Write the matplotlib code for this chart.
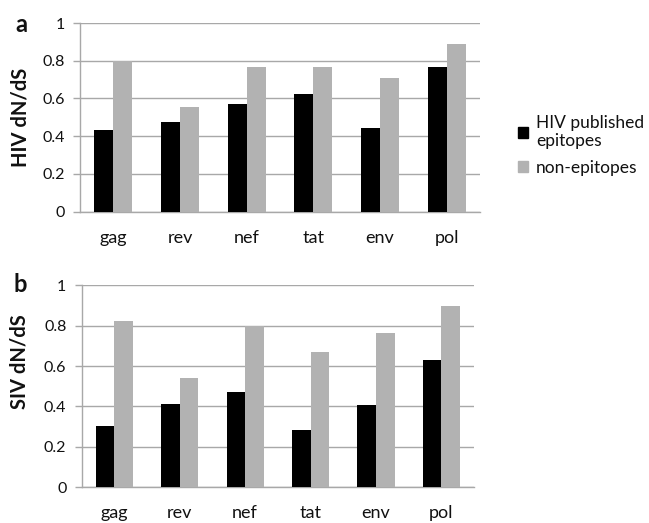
import matplotlib
matplotlib.use("Agg")
import matplotlib.pyplot as plt
from matplotlib.patches import Patch
import numpy as np

genes = ["gag", "rev", "nef", "tat", "env", "pol"]
hiv_epitopes = [0.433, 0.477, 0.569, 0.622, 0.442, 0.765]
hiv_non_epitopes = [0.799, 0.553, 0.768, 0.768, 0.708, 0.887]
siv_epitopes = [0.305, 0.414, 0.470, 0.285, 0.406, 0.630]
siv_non_epitopes = [0.825, 0.540, 0.798, 0.671, 0.765, 0.897]
yticks = [0, 0.2, 0.4, 0.6, 0.8, 1]
ytick_labels = ["0", "0.2", "0.4", "0.6", "0.8", "1"]

plt.rcParams["font.family"] = ["Lato", "DejaVu Sans"]

BLACK = "#000000"
GREY = "#b2b2b2"
GRID = "#a8a8a8"
TEXT = "#111111"

fig = plt.figure(figsize=(6.49, 5.23), dpi=100)
ax_a = fig.add_axes([0.1233, 0.5952, 0.6163, 0.3608])
ax_b = fig.add_axes([0.1259, 0.0683, 0.6045, 0.3862])

x = np.arange(len(genes))
w = 0.285


def draw_panel(ax, epi, non_epi, ylabel, letter, label_xy, letter_xy):
    ax.set_axisbelow(True)
    ax.bar(x - w / 2, epi, width=w, color=BLACK, zorder=3)
    ax.bar(x + w / 2, non_epi, width=w, color=GREY, zorder=3)
    ax.set_xlim(-0.5, len(genes) - 0.5)
    ax.set_ylim(0, 1)
    ax.set_yticks(yticks)
    ax.set_yticklabels(ytick_labels)
    ax.set_xticks(x)
    ax.set_xticklabels(genes)
    ax.yaxis.grid(True, color=GRID, linewidth=1.0)
    for s in ("top", "right"):
        ax.spines[s].set_visible(False)
    for s in ("left", "bottom"):
        ax.spines[s].set_color(GRID)
        ax.spines[s].set_linewidth(1.0)
    ax.tick_params(axis="y", length=5, color=GRID, width=1.0,
                   labelsize=11.5, labelcolor=TEXT, pad=6)
    ax.tick_params(axis="x", length=0, labelsize=13, labelcolor=TEXT, pad=13)
    ax.set_ylabel(ylabel, fontsize=14.5, fontweight="bold", color=TEXT)
    ax.yaxis.set_label_coords(*label_xy)
    ax.text(letter_xy[0], letter_xy[1], letter, transform=ax.transAxes,
            fontsize=17, fontweight="bold", color=TEXT,
            ha="left", va="baseline")


draw_panel(ax_a, hiv_epitopes, hiv_non_epitopes, "HIV dN/dS", "a",
           (-0.125, 0.50), (-0.1625, 0.952))
draw_panel(ax_b, siv_epitopes, siv_non_epitopes, "SIV dN/dS", "b",
           (-0.132, 0.62), (-0.175, 0.967))

handles = [Patch(color=BLACK), Patch(color=GREY)]
fig.legend(handles, ["HIV published\nepitopes", "non-epitopes"],
           loc="center left", bbox_to_anchor=(0.798, 0.722), frameon=False,
           borderpad=0, borderaxespad=0,
           fontsize=12.5, handlelength=0.6, handleheight=0.6,
           handletextpad=0.45, labelspacing=0.62, labelcolor=TEXT)

fig.savefig("out.png", dpi=100)
